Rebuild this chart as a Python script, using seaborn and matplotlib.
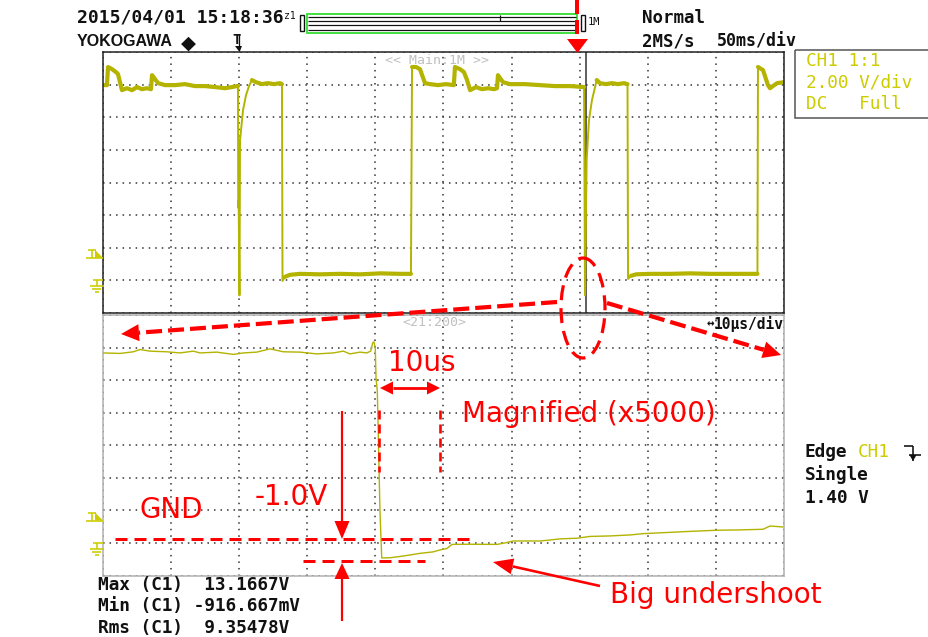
import numpy as np
import pandas as pd
import matplotlib
matplotlib.use("Agg")
import matplotlib.pyplot as plt
import seaborn as sns
from matplotlib.patches import Ellipse, Rectangle, Polygon

# ------------------------------------------------------------------ data
# Main window (50 ms/div): time in ms, CH1 voltage in V
main_time_ms = [0, 2.9, 3.7, 6.6, 9.5, 11.0, 13.9, 17.6, 21.3, 25.0, 28.6, 32.3, 35.2, 36.0,
                38.2, 40.4, 45.5, 52.9, 60.2, 67.5, 74.9, 82.2, 89.6, 94.7, 98.4, 99.1, 99.3,
                99.6, 100.2, 100.6, 102.8, 105.0, 107.2, 109.4, 112.3, 116.7, 121.1, 125.5,
                129.9, 131.4, 131.8, 133.6, 137.3, 144.6, 159.3, 174.0, 188.7, 203.4, 218.1,
                226.1, 226.9, 229.8, 232.7, 236.4, 240.1, 246.0, 251.8, 257.6, 258.4, 262.1,
                265.0, 267.3, 269.5, 273.9, 278.3, 282.7, 287.1, 289.3, 290.0, 293.7, 298.8,
                309.8, 320.8, 331.9, 342.9, 353.2, 353.9, 355.1, 356.8, 359.0, 362.5, 364.9,
                369.3, 373.7, 378.1, 382.5, 385.1, 385.5, 387.7, 391.3, 401.6, 416.3, 431.0,
                445.7, 460.3, 475.0, 480.5, 480.9, 484.6, 488.2, 489.7, 494.9, 500.0]
main_volt = [11.97, 11.97, 13.08, 12.95, 12.77, 12.65, 11.66, 11.78, 11.66, 11.85, 11.72, 11.78,
             11.72, 12.58, 12.34, 12.09, 11.97, 11.97, 12.03, 11.91, 11.91, 11.85, 11.78, 11.85,
             11.91, 11.91, 4.46, 4.9, -0.92, 8.58, 10.43, 11.35, 11.91, 12.28, 12.15, 12.03,
             12.09, 12.03, 12.09, 12.03, -0.03, 0.22, 0.34, 0.40, 0.37, 0.40, 0.37, 0.43, 0.40,
             0.40, 13.08, 13.08, 12.95, 12.09, 12.03, 11.97, 12.03, 11.97, 13.08, 12.95, 12.77,
             12.28, 11.66, 11.85, 11.72, 11.78, 11.72, 11.78, 12.58, 12.15, 12.03, 12.03, 11.97,
             11.91, 11.91, 11.85, -0.92, 7.35, 9.82, 11.05, 12.28, 12.09, 12.03, 12.09, 12.03,
             12.09, 12.03, 0.09, 0.28, 0.37, 0.40, 0.40, 0.43, 0.40, 0.40, 0.40, 0.40, 13.08,
             12.89, 11.97, 11.78, 12.09, 12.15]

# Zoom window (10 us/div): time in us, CH1 voltage in V
zoom_time_us = [0.0, 2.5, 4.45, 5.43, 6.9, 9.35, 11.31, 13.26, 14.24, 16.7, 19.13, 20.6, 22.57,
                24.52, 26.48, 28.93, 31.38, 33.82, 35.29, 36.27, 37.74, 38.72, 39.31, 39.6,
                39.79, 39.98, 40.09, 40.28, 40.48, 40.67, 40.93, 42.15, 43.61, 45.08, 46.55,
                48.46, 49.49, 50.51, 51.25, 53.89, 57.86, 59.03, 60.21, 64.17, 65.64, 67.11,
                69.6, 71.51, 74.45, 77.39, 79.3, 82.24, 86.2, 90.17, 93.54, 96.92, 97.95, 99.85]
zoom_volt = [11.67, 11.64, 11.74, 11.88, 11.78, 11.74, 11.67, 11.78, 11.67, 11.72, 11.58, 11.67,
             11.72, 11.92, 11.74, 11.72, 11.61, 11.67, 11.78, 11.61, 11.72, 11.67, 11.78, 12.29,
             12.35, 11.98, 10.14, 9.33, 5.64, 1.96, -0.92, -0.91, -0.83, -0.74, -0.64, -0.55,
             -0.43, -0.34, -0.09, -0.08, -0.09, 0.0, 0.12, 0.12, 0.18, 0.25, 0.29, 0.40, 0.43,
             0.49, 0.57, 0.63, 0.71, 0.78, 0.80, 0.84, 1.04, 0.98]

zoom_center_ms = 354.6
main_xticks = list(range(0, 501, 50))
zoom_xticks = list(range(0, 101, 10))
volt_ticks = list(range(-2, 15, 2))

header_date = "2015/04/01 15:18:36"
brand = "YOKOGAWA"
mode_text = "Normal"
rate_text = "2MS/s"
tdiv_text = "50ms/div"
ch_box_lines = ["CH1 1:1", "2.00 V/div", "DC   Full"]
zoom_tdiv_text = "10\u03bcs/div"
trigger_lines = ["Single", "1.40 V"]
measure_lines = ["Max (C1)  13.1667V", "Min (C1) -916.667mV", "Rms (C1)  9.35478V"]

# ------------------------------------------------------------------ style
sns.set_style("white")
plt.rcParams["font.family"] = ["DejaVu Sans"]
plt.rcParams["lines.scale_dashes"] = False

TRACE = "#b3b300"
YEL = "#cccc00"
RED = "#ff0000"
MONO = ["DejaVu Sans Mono", "DejaVu Sans"]
PX = 0.72  # points per pixel at dpi 100

W, H = 929, 637
fig = plt.figure(figsize=(W / 100, H / 100), dpi=100)
fig.patch.set_facecolor("white")


def panel(x0, y0, x1, y1):
    return fig.add_axes([x0 / W, 1 - y1 / H, (x1 - x0) / W, (y1 - y0) / H])


ax_main = panel(103, 52, 784, 313)
ax_zoom = panel(103, 315, 784, 575.5)

main_df = pd.DataFrame({"t": main_time_ms, "v": main_volt})
zoom_df = pd.DataFrame({"t": zoom_time_us, "v": zoom_volt})

# thick noisy plateaus of the main trace
plateau_windows = [(0, 99.15), (109, 131.5), (133, 226.5), (226.85, 353.5),
                   (362, 385.2), (387, 480.6), (480.85, 500)]
parts = []
for i, (a, b) in enumerate(plateau_windows):
    p = main_df[(main_df.t >= a) & (main_df.t <= b)].copy()
    p["seg"] = i
    parts.append(p)
thick_df = pd.concat(parts)

sns.lineplot(data=main_df, x="t", y="v", ax=ax_main, color=TRACE, lw=1.4,
             estimator=None, sort=False, legend=False)
sns.lineplot(data=thick_df, x="t", y="v", units="seg", ax=ax_main, color=TRACE, lw=3.0,
             estimator=None, sort=False, legend=False)
ax_main.axvline(zoom_center_ms, color="#333333", lw=1.1, zorder=1)
sns.lineplot(data=zoom_df, x="t", y="v", ax=ax_zoom, color=TRACE, lw=1.0,
             estimator=None, sort=False, legend=False)

for ax, xt, frame_col in ((ax_main, main_xticks, "#222222"), (ax_zoom, zoom_xticks, "#b0b0b0")):
    ax.set_xlim(xt[0], xt[-1])
    ax.set_ylim(volt_ticks[0], volt_ticks[-1])
    ax.set_xticks(xt)
    ax.set_yticks(volt_ticks)
    ax.tick_params(length=0, labelbottom=False, labelleft=False)
    ax.set_xlabel("")
    ax.set_ylabel("")
    ax.grid(True, color="#333333", lw=1.1, linestyle=(0, (1.1, 3.6)))
    ax.set_axisbelow(True)
    for s in ax.spines.values():
        s.set_color(frame_col)
        s.set_linewidth(1.1)
        s.set_visible(True)
    ax.set_facecolor("white")

# ------------------------------------------------------------------ overlay (pixel coords)
ov = fig.add_axes([0, 0, 1, 1], zorder=10)
ov.set_xlim(0, W)
ov.set_ylim(H, 0)
ov.axis("off")
ov.patch.set_alpha(0)


def seg(xs, ys, color="black", lw=1.0, dash=None, **kw):
    style = dict(color=color, lw=lw * PX, solid_capstyle="butt")
    if dash:
        style["dashes"] = (dash[0] * PX, dash[1] * PX)
        style["dash_capstyle"] = "butt"
    style.update(kw)
    ov.plot(xs, ys, **style)


def arrow(x0, y0, x1, y1, lw, hl, hw, dash=None, both=False):
    d = np.hypot(x1 - x0, y1 - y0)
    ux, uy = (x1 - x0) / d, (y1 - y0) / d
    px, py = -uy, ux
    sx, sy = (x0 + ux * hl, y0 + uy * hl) if both else (x0, y0)
    bx, by = x1 - ux * hl, y1 - uy * hl
    seg([sx, bx], [sy, by], RED, lw, dash)
    heads = [((x1, y1), (bx, by))]
    if both:
        heads.append(((x0, y0), (sx, sy)))
    for (tx, ty), (cx, cy) in heads:
        ov.add_patch(Polygon([(tx, ty), (cx + px * hw / 2, cy + py * hw / 2),
                              (cx - px * hw / 2, cy - py * hw / 2)],
                             closed=True, color=RED, lw=0))


def mono(x, y, s, size=13, color="#111111", weight="bold"):
    ov.text(x, y, s, fontsize=size, family=MONO, fontweight=weight, color=color,
            ha="left", va="center")


# header
mono(77, 18, header_date)
ov.text(284, 16, "z1", fontsize=7, family=MONO, color="#111111", va="center")
ov.add_patch(Rectangle((300, 15), 4.5, 16, fill=False, ec="#111111", lw=1.0))
for yy in (16.5, 20.5, 25, 29.5):
    seg([308, 576], [yy, yy], "#111111", 1.2)
seg([500, 500], [15, 20.5], "#111111", 1.2)
ov.add_patch(Rectangle((307, 13.5), 270, 19.5, fill=False, ec="#33dd33", lw=1.3))
ov.add_patch(Rectangle((581, 15), 4.5, 16, fill=False, ec="#111111", lw=1.0))
ov.text(588, 22, "1M", fontsize=7.5, family=MONO, color="#111111", va="center")
ov.text(77, 42, brand, fontsize=11.5, family=["Liberation Sans", "DejaVu Sans"],
        fontweight="bold", color="#111111", va="center")
ov.text(188, 43, "\u25c6", fontsize=14, color="#111111", va="center", ha="center")
mono(232, 40, "T", size=10)
seg([239.5, 239.5], [34, 50], "#111111", 1.3)
ov.add_patch(Polygon([(235, 46), (242, 46), (239.5, 52)], closed=True, color="#111111", lw=0))
mono(642, 18, mode_text, size=12.5)
mono(642, 41, rate_text, size=12.5)
mono(717, 41, tdiv_text, size=12)

# channel box
ov.add_patch(Rectangle((795, 50), 145, 68, fill=False, ec="#555555", lw=1.1))
for yy, s in zip((61.5, 82.5, 104), ch_box_lines):
    mono(806, yy, s, size=12.8, color=YEL, weight="normal")

# panel captions
ov.text(385, 60, "<< Main:1M >>", fontsize=9.5, family=MONO, color="#c0c0c0", va="center")
ov.text(402, 323, "<21:200>", fontsize=9.5, family=MONO, color="#c0c0c0", va="center")
ov.text(707, 324, "\u2194", fontsize=9, family=MONO, color="#111111", va="center", fontweight="bold")
mono(714, 324, zoom_tdiv_text, size=10.5)

# trigger / ground markers
for g in (280.4, 543.0):
    t = g - 22.5
    seg([86, 103], [t, t], YEL, 1.6)
    seg([88, 96], [t - 8, t - 8], YEL, 1.6)
    seg([92, 92], [t - 8, t], YEL, 1.6)
    ov.add_patch(Polygon([(95, t - 8), (103, t), (95, t)], closed=True, color=YEL, lw=0))
    seg([93, 103], [g, g], YEL, 1.6)
    seg([97, 97], [g, g + 6], YEL, 1.6)
    seg([90, 104], [g + 6, g + 6], YEL, 1.6)
    seg([92.5, 101.5], [g + 9, g + 9], YEL, 1.6)
    seg([95, 99], [g + 12, g + 12], YEL, 1.6)

# trigger info
mono(805, 452, "Edge", size=12.8)
mono(858, 452, "CH1", size=12.8, color=YEL, weight="normal")
seg([904, 913], [446, 446], "#111111", 1.6)
seg([913, 913], [446, 461], "#111111", 1.6)
seg([909, 921], [455, 455], "#111111", 1.6)
ov.add_patch(Polygon([(909.5, 455), (916.5, 455), (913, 461)], closed=True, color="#111111", lw=0))
mono(805, 475, trigger_lines[0], size=12.8)
mono(805, 498, trigger_lines[1], size=12.8)

# measurements
for yy, s in zip((585, 606, 628), measure_lines):
    mono(98, yy, s, size=12.8)

# ------------------------------------------------------------------ red annotations
seg([577.5, 577.5], [0, 39], RED, 4, (14, 6))
ov.add_patch(Polygon([(567, 39), (588, 39), (577.5, 53)], closed=True, color=RED, lw=0))
ov.add_patch(Ellipse((583, 308), 44, 100, fill=False, ec=RED, lw=3.2 * PX,
                     linestyle=(0, (15 * PX, 8 * PX))))
arrow(557, 302, 121, 334, 4.2, 18, 17, dash=(16, 6))
arrow(607, 303, 781, 355, 4.2, 18, 17, dash=(16, 6))

big = dict(fontsize=20, color=RED, ha="left", va="baseline", family=["DejaVu Sans"])
ov.text(388, 371, "10us", **big)
arrow(380, 388, 440, 388, 2.8, 13, 13, both=True)
seg([379, 379], [410, 472], RED, 2.6, (9, 5))
seg([440, 440], [410, 472], RED, 2.6, (9, 5))
ov.text(462, 422, "Magnified (x5000)", **big)
ov.text(255, 505, "-1.0V", **big)
ov.text(140, 518, "GND", **big)
arrow(342, 411, 342, 539, 2.2, 18, 15)
seg([115, 470], [539, 539], RED, 3.0, (12, 7))
seg([303, 425], [561, 561], RED, 3.0, (12, 7))
arrow(342, 621, 342, 563, 2.2, 16, 15)
arrow(600, 586, 493, 562, 2.6, 20, 16)
ov.text(610, 603, "Big undershoot", **big)

fig.savefig("out.png", dpi=100, facecolor="white")
